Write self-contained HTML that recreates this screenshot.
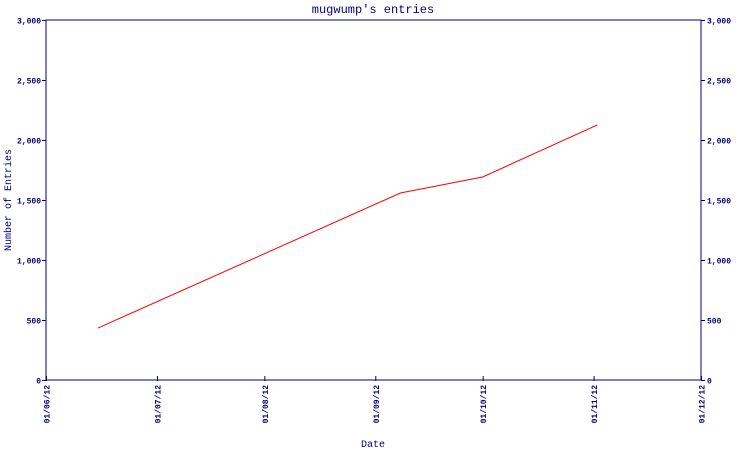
<!DOCTYPE html>
<html><head><meta charset="utf-8"><style>
body{margin:0;background:#fff;}
svg{display:block;font-family:"Liberation Mono","DejaVu Sans Mono",monospace;}
</style></head><body>
<svg id="chart" width="750" height="450">
<text x="373" y="13" text-anchor="middle" font-size="12" fill="#000080">mugwump's entries</text>
<text x="373" y="447" text-anchor="middle" font-size="10" fill="#000080">Date</text>
<text transform="translate(11,200) rotate(-90)" text-anchor="middle" font-size="10" fill="#000080">Number of Entries</text>
<rect x="46" y="20" width="655" height="360" fill="none" stroke="#000080" stroke-width="1"/>
<g id="axes"></g>
<g id="series"></g>
</svg>
<script>
const xTickLabels=["01/06/12","01/07/12","01/08/12","01/09/12","01/10/12","01/11/12","01/12/12"];
const xTickDays=[0,31,61,92,122,153,183];
const yTicks=[0,500,1000,1500,2000,2500,3000];
const yTickLabels=["0","500","1,000","1,500","2,000","2,500","3,000"];
const pointDays=[14.5,99,122,154];
const entryCounts=[433,1558,1692,2125];
const X0=46,X1=701,Y0=380,Y1=20,DMAX=183,VMAX=3000;
const xs=d=>X0+(X1-X0)*d/DMAX;
const ys=v=>Y0-(Y0-Y1)*v/VMAX;
const NS="http://www.w3.org/2000/svg";
const axes=document.getElementById('axes');
function mk(tag,attrs,parent){const e=document.createElementNS(NS,tag);for(const k in attrs)e.setAttribute(k,attrs[k]);parent.appendChild(e);return e;}
yTicks.forEach((v,i)=>{
  const y=ys(v)+0.5;
  const l=mk('line',{x1:X0-4,x2:X0,y1:y,y2:y,stroke:'#000080'},axes);
  
  
  const r=mk('line',{x1:X1,x2:X1+4,y1:y,y2:y,stroke:'#000080'},axes);
  
  
  const t=mk('text',{x:X0-5,y:y+3,'text-anchor':'end','font-size':'8','font-weight':'bold',fill:'#000080'},axes);
  t.textContent=yTickLabels[i];
  
  
  const t2=mk('text',{x:X1+6,y:y+3,'font-size':'8','font-weight':'bold',fill:'#000080'},axes);
  t2.textContent=yTickLabels[i];
  
  
});
xTickDays.forEach((d,i)=>{
  const x=xs(d)+0.5;
  const l=mk('line',{x1:x,x2:x,y1:Y0-4,y2:Y0+1,stroke:'#000080'},axes);
  
  
  const t=mk('text',{transform:`translate(${x+3},${Y0+5}) rotate(-90)`,'text-anchor':'end','font-size':'8','font-weight':'bold',fill:'#000080'},axes);
  t.textContent=xTickLabels[i];
  
  
});
const pts=pointDays.map((d,i)=>xs(d)+','+ys(entryCounts[i])).join(' ');
const pl=mk('polyline',{points:pts,fill:'none',stroke:'#ff0000','stroke-width':'1'},document.getElementById('series'));


</script>
</body></html>
